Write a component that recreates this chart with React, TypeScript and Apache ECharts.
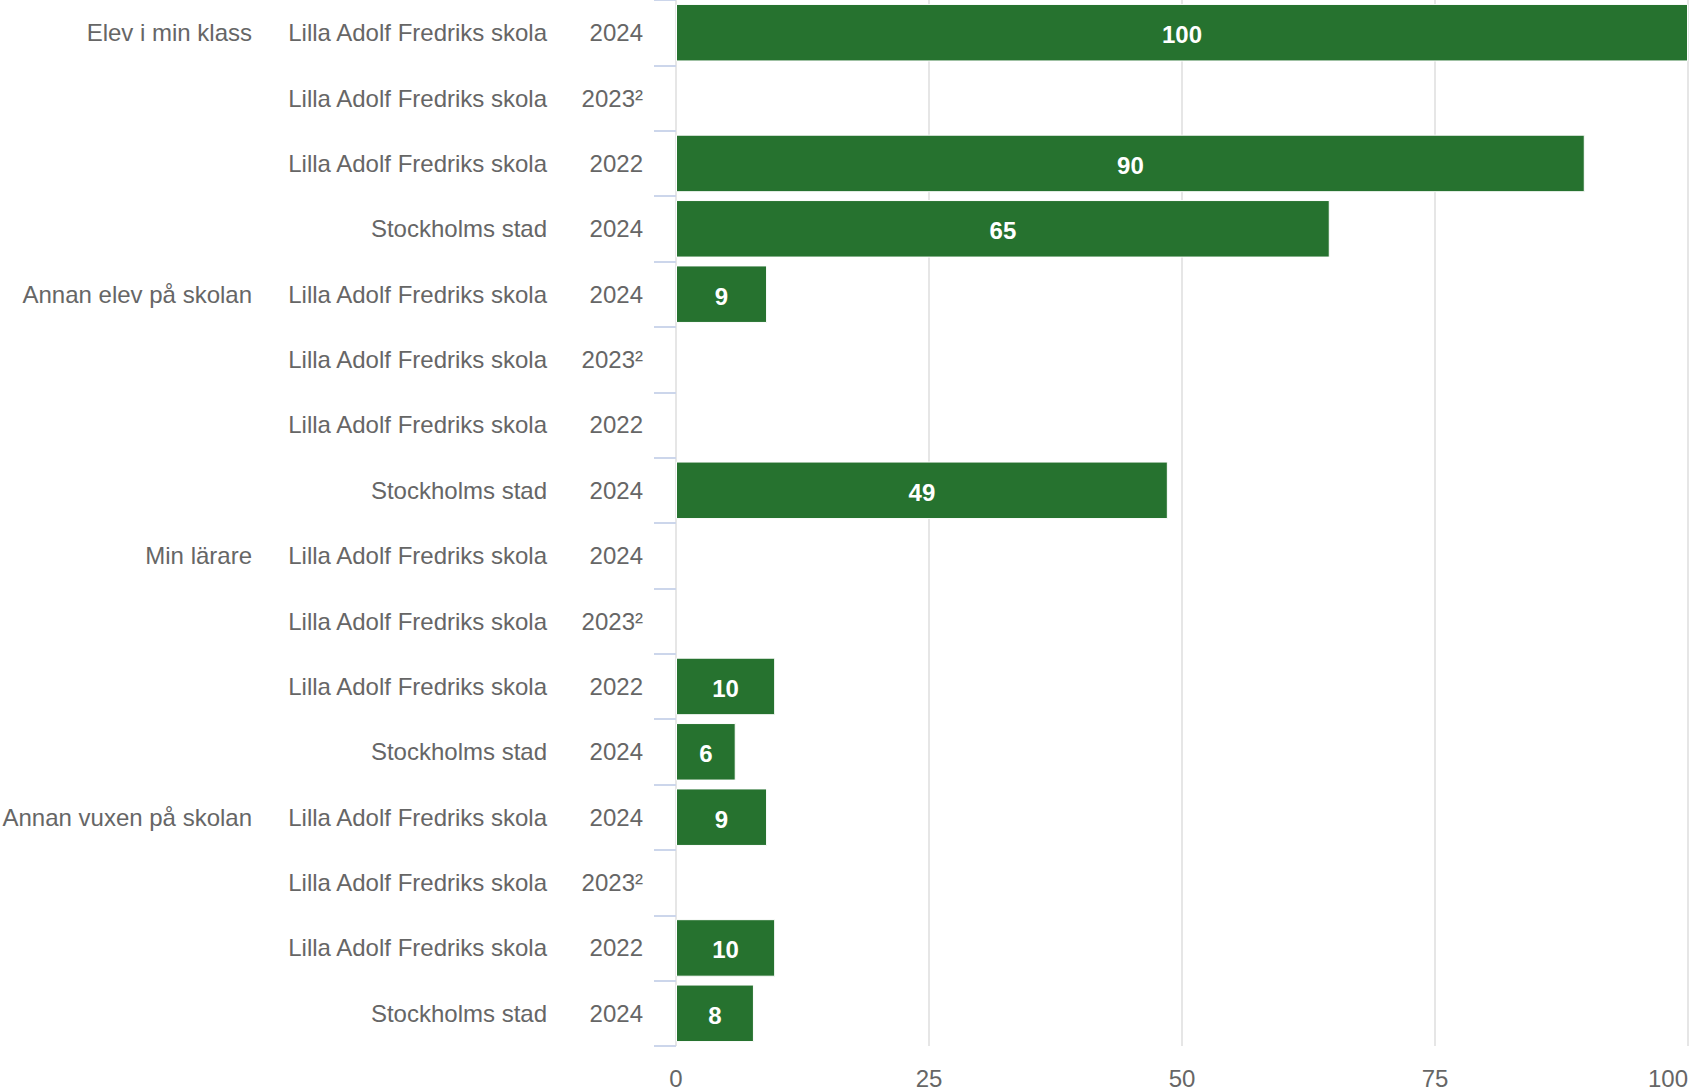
import React, { useEffect, useRef } from "react";
import * as echarts from "echarts";

const groupLabels = [
  "Elev i min klass", "", "", "",
  "Annan elev på skolan", "", "", "",
  "Min lärare", "", "", "",
  "Annan vuxen på skolan", "", "", "",
];
const unitLabels = [
  "Lilla Adolf Fredriks skola", "Lilla Adolf Fredriks skola", "Lilla Adolf Fredriks skola", "Stockholms stad",
  "Lilla Adolf Fredriks skola", "Lilla Adolf Fredriks skola", "Lilla Adolf Fredriks skola", "Stockholms stad",
  "Lilla Adolf Fredriks skola", "Lilla Adolf Fredriks skola", "Lilla Adolf Fredriks skola", "Stockholms stad",
  "Lilla Adolf Fredriks skola", "Lilla Adolf Fredriks skola", "Lilla Adolf Fredriks skola", "Stockholms stad",
];
const yearLabels = [
  "2024", "2023²", "2022", "2024",
  "2024", "2023²", "2022", "2024",
  "2024", "2023²", "2022", "2024",
  "2024", "2023²", "2022", "2024",
];
const values: (number | null)[] = [
  100, null, 89.8, 64.6,
  9, null, null, 48.6,
  null, null, 9.8, 5.9,
  9, null, 9.8, 7.7,
];
const xTicks = [0, 25, 50, 75, 100];

const rowKeys = values.map((_, i) => String(i));

export default function App() {
  const ref = useRef<HTMLDivElement>(null);
  useEffect(() => {
    document.body.style.margin = "0";
    const chart = echarts.init(ref.current!, undefined, { renderer: "svg" });
    const labelFont = { fontFamily: "Liberation Sans, Arial, sans-serif", fontSize: 24, color: "#666666" };
    const baseY = {
      type: "category" as const,
      data: rowKeys,
      inverse: true,
      position: "left" as const,
      axisLine: { show: false },
      splitLine: { show: false },
    };
    chart.setOption({
      animation: false,
      grid: { left: 676, right: 11, top: 0, bottom: 44, containLabel: false, outerBoundsMode: "none" },
      xAxis: {
        type: "value",
        min: xTicks[0],
        max: xTicks[xTicks.length - 1],
        interval: 25,
        axisLine: { show: false },
        axisTick: { show: false },
        splitLine: { show: true, lineStyle: { color: "#e6e6e6", width: 2 } },
        axisLabel: { ...labelFont, margin: 20, alignMaxLabel: "right" },
      },
      yAxis: [
        {
          ...baseY,
          axisTick: { show: true, length: 22, lineStyle: { color: "#ccd6eb", width: 2 } },
          axisLabel: { ...labelFont, margin: 33, formatter: (v: string) => yearLabels[+v] },
        },
        {
          ...baseY,
          axisTick: { show: false },
          axisLabel: { ...labelFont, margin: 129, formatter: (v: string) => unitLabels[+v] },
        },
        {
          ...baseY,
          axisTick: { show: false },
          axisLabel: { ...labelFont, margin: 424, formatter: (v: string) => groupLabels[+v] },
        },
      ],
      series: [
        {
          type: "bar",
          yAxisIndex: 0,
          data: values.map((v) => (v === null ? "-" : v)),
          barCategoryGap: "12%",
          itemStyle: { color: "#26722f", borderColor: "#ffffff", borderWidth: 1 },
          label: {
            show: true,
            position: "inside",
            color: "#ffffff",
            fontWeight: "bold",
            fontSize: 24,
            fontFamily: "Liberation Sans, Arial, sans-serif",
            offset: [0, 2],
            formatter: (p: any) => String(Math.round(p.value)),
          },
        },
      ],
    });
    return () => chart.dispose();
  }, []);
  return <div ref={ref} style={{ width: 1699, height: 1090 }} />;
}
